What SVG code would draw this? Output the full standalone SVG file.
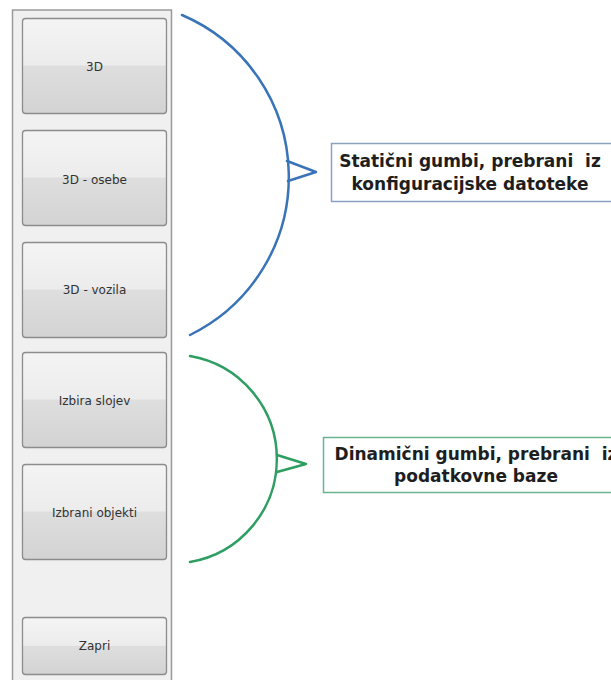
<svg xmlns="http://www.w3.org/2000/svg" width="611" height="680" viewBox="0 0 611 680">
<defs>
<linearGradient id="btn" x1="0" y1="0" x2="0" y2="1">
<stop offset="0" stop-color="#f4f4f4"/>
<stop offset="0.49" stop-color="#ececec"/>
<stop offset="0.5" stop-color="#dedede"/>
<stop offset="1" stop-color="#d3d3d3"/>
</linearGradient>
</defs>
<style>
.btn{fill:url(#btn);stroke:#8c8c8c;stroke-width:1.3}
.bt{font-family:"DejaVu Sans",Verdana,sans-serif;font-size:12px;fill:#333;text-anchor:middle}
.lbl{font-family:"DejaVu Sans",Verdana,sans-serif;font-size:17px;font-weight:bold;fill:#1e1e1e;text-anchor:middle;white-space:pre}
.blue{fill:none;stroke:#3a74b8;stroke-width:2.5;stroke-linecap:round;stroke-linejoin:round}
.green{fill:none;stroke:#2e9e62;stroke-width:2.5;stroke-linecap:round;stroke-linejoin:round}
</style>
<rect width="611" height="680" fill="#fff"/>
<g id="panel">
<rect x="12.5" y="10" width="159" height="680" fill="#f0f0f0" stroke="#9a9a9a" stroke-width="1.5"/>
</g>
<g id="btn-3d">
<rect class="btn" x="22.5" y="18.5" width="144" height="95" rx="3"/>
<text class="bt" x="94.5" y="71">3D</text>
</g>
<g id="btn-osebe">
<rect class="btn" x="22.5" y="130.5" width="144" height="95" rx="3"/>
<text class="bt" x="94.5" y="184">3D - osebe</text>
</g>
<g id="btn-vozila">
<rect class="btn" x="22.5" y="242.5" width="144" height="95" rx="3"/>
<text class="bt" x="94.5" y="294">3D - vozila</text>
</g>
<g id="btn-slojev">
<rect class="btn" x="22.5" y="352.5" width="144" height="95" rx="3"/>
<text class="bt" x="94.5" y="405">Izbira slojev</text>
</g>
<g id="btn-objekti">
<rect class="btn" x="22.5" y="464.5" width="144" height="95" rx="3"/>
<text class="bt" x="94.5" y="517">Izbrani objekti</text>
</g>
<g id="btn-zapri">
<rect class="btn" x="22.5" y="617.5" width="144" height="57" rx="3"/>
<text class="bt" x="94.5" y="650">Zapri</text>
</g>
<g id="connectors">
<path class="blue" d="M182,15 A176,176 0 0 1 190,335"/>
<polyline class="blue" points="287,161 316,172 288,181"/>
<path class="green" d="M190,356 A104.5,104.5 0 0 1 190,562"/>
<polyline class="green" points="277,455 306,464 277,472"/>
</g>
<g id="label-static">
<rect x="331.5" y="143.5" width="300" height="58" fill="#fff" stroke="#8aa2bf" stroke-width="1.5"/>
<text class="lbl" x="470" y="167">Statični gumbi, prebrani  iz</text>
<text class="lbl" x="470" y="190">konfiguracijske datoteke</text>
</g>
<g id="label-dynamic">
<rect x="323.5" y="437.5" width="300" height="55" fill="#fff" stroke="#6ab58f" stroke-width="1.5"/>
<text class="lbl" x="476" y="460">Dinamični gumbi, prebrani  iz</text>
<text class="lbl" x="476" y="482">podatkovne baze</text>
</g>
</svg>
